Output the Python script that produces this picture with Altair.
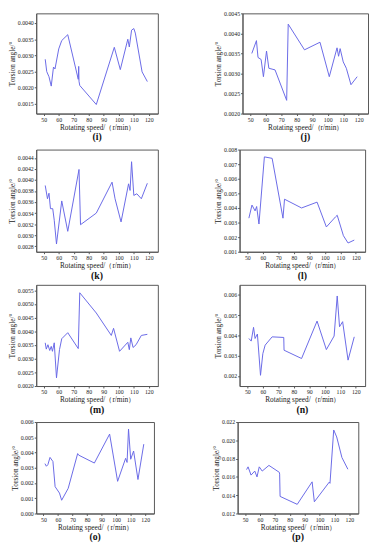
import altair as alt
import pandas as pd

X_TICKS = [50, 60, 70, 80, 90, 100, 110, 120]
X_TITLE = "Rotating speed/（r/min）"
Y_TITLE = "Torsion angle/°"

# (i)
x_i = [51, 52, 53.5, 55, 56.5, 57.5, 60, 62, 66, 73, 73.3, 73.5, 74, 85, 97, 101, 106, 107, 108.5, 110, 111, 115.5, 119]
y_i = [0.00288, 0.00250, 0.00234, 0.00205, 0.00264, 0.00258, 0.00320, 0.00346, 0.00364, 0.00226, 0.00266, 0.00220, 0.00207, 0.00148, 0.00325, 0.00256, 0.00350, 0.00326, 0.00378, 0.00383, 0.00369, 0.00249, 0.00219]
# (j)
x_j = [51, 54, 55, 57, 58.5, 60.5, 62, 66, 73.5, 74.5, 85, 95, 101, 106, 107, 108, 110, 112, 115, 119]
y_j = [0.00350, 0.00382, 0.00340, 0.00335, 0.00292, 0.00356, 0.00313, 0.00309, 0.00233, 0.00423, 0.00359, 0.00378, 0.00292, 0.00364, 0.00343, 0.00362, 0.00329, 0.00313, 0.00272, 0.00292]
# (k)
x_k = [51, 52.5, 53.5, 54.5, 56, 57, 58.5, 62, 66, 73.5, 74.5, 85, 95.5, 97.5, 101.5, 106.5, 107.5, 108.5, 110, 112, 115, 119]
y_k = [0.00390, 0.00366, 0.00376, 0.00348, 0.00348, 0.00327, 0.00284, 0.00362, 0.00307, 0.00419, 0.00319, 0.00340, 0.00396, 0.00366, 0.00324, 0.00393, 0.00381, 0.00433, 0.00372, 0.00375, 0.00366, 0.00394]
# (l)
x_l = [51, 53, 55, 56, 57.5, 61, 66, 73, 74, 85, 95, 101, 107, 108, 112, 115, 119]
y_l = [0.0033, 0.0042, 0.0038, 0.0041, 0.0029, 0.0075, 0.0074, 0.0033, 0.0046, 0.0040, 0.0044, 0.0027, 0.0034, 0.0035, 0.0021, 0.0016, 0.0018]
# (m)
x_m = [51, 51.7, 52.8, 54, 55, 55.8, 57, 58.5, 60.5, 62, 66, 73, 74, 85, 95, 96.5, 100.5, 106, 107, 108, 109.5, 111.5, 115, 119]
y_m = [0.00358, 0.00335, 0.00351, 0.00330, 0.00345, 0.00327, 0.00358, 0.00230, 0.00333, 0.00373, 0.00395, 0.00337, 0.00541, 0.00467, 0.00385, 0.00411, 0.00327, 0.00360, 0.00333, 0.00376, 0.00341, 0.00351, 0.00385, 0.00389]
# (n)
x_n = [51, 52.5, 54, 55, 56.5, 58.5, 60, 61.5, 66, 73.5, 73.7, 85, 95, 101, 106, 108, 109.5, 111.5, 115, 119]
y_n = [0.00385, 0.00372, 0.00440, 0.00385, 0.00407, 0.00203, 0.00310, 0.00352, 0.00393, 0.00390, 0.00327, 0.00286, 0.00471, 0.00330, 0.00397, 0.00595, 0.00443, 0.00468, 0.00278, 0.00393]
# (o)
x_o = [51, 52, 53, 54.5, 56.5, 58, 61, 62.5, 67, 73.5, 74.2, 85, 95.5, 101, 106.5, 107.5, 108.5, 110, 112, 115, 119]
y_o = [0.00327, 0.00310, 0.00320, 0.00368, 0.00341, 0.00176, 0.00134, 0.00087, 0.00165, 0.00393, 0.00383, 0.00331, 0.00521, 0.00211, 0.00362, 0.00335, 0.00554, 0.00356, 0.00410, 0.00223, 0.00455]
# (p)
x_p = [51, 52, 54, 56.5, 58, 59.5, 61.5, 66, 73, 73.2, 73.5, 85, 95, 96.5, 106.5, 107, 109.5, 111.5, 115, 119]
y_p = [0.0168, 0.0171, 0.0162, 0.01664, 0.0160, 0.0171, 0.01664, 0.01726, 0.0165, 0.0163, 0.01387, 0.0130, 0.01546, 0.01328, 0.01543, 0.0153, 0.02113, 0.02037, 0.01812, 0.01684]

LINE = "#6868e6"
FONT = "Liberation Serif"


def panel(xs, ys, label, dom, ticks, fmt, w, h):
    df = pd.DataFrame({"speed": xs, "angle": ys, "idx": list(range(len(xs)))})
    return alt.Chart(df, title=alt.TitleParams(label, orient="bottom", font=FONT,
                                               fontWeight="bold", fontSize=10, offset=2)).mark_line(
        color=LINE, strokeWidth=1).encode(
        x=alt.X("speed:Q", scale=alt.Scale(domain=[45, 126], nice=False, zero=False),
                axis=alt.Axis(values=X_TICKS, title=X_TITLE)),
        y=alt.Y("angle:Q", scale=alt.Scale(domain=dom, nice=False, zero=False),
                axis=alt.Axis(values=ticks, format=fmt, title=Y_TITLE)),
        order=alt.Order("idx:Q"),
    ).properties(width=w, height=h)


SP = 57
r1 = alt.hconcat(
    panel(x_i, y_i, "(i)", [0.0012, 0.0043], [0.0015, 0.0020, 0.0025, 0.0030, 0.0035, 0.0040], ".4f", 125, 103),
    panel(x_j, y_j, "(j)", [0.0020, 0.0045], [0.0020, 0.0025, 0.0030, 0.0035, 0.0040, 0.0045], ".4f", 129, 103),
    spacing=SP)
r2 = alt.hconcat(
    panel(x_k, y_k, "(k)", [0.0027, 0.00455], [0.0028, 0.0030, 0.0032, 0.0034, 0.0036, 0.0038, 0.0040, 0.0042, 0.0044], ".4f", 125, 105),
    panel(x_l, y_l, "(l)", [0.001, 0.008], [0.001, 0.002, 0.003, 0.004, 0.005, 0.006, 0.007, 0.008], ".3f", 129, 105),
    spacing=SP)
r3 = alt.hconcat(
    panel(x_m, y_m, "(m)", [0.0020, 0.0057], [0.0020, 0.0025, 0.0030, 0.0035, 0.0040, 0.0045, 0.0050, 0.0055], ".4f", 125, 104),
    panel(x_n, y_n, "(n)", [0.0015, 0.0065], [0.002, 0.003, 0.004, 0.005, 0.006], ".3f", 129, 104),
    spacing=SP)
r4 = alt.hconcat(
    panel(x_o, y_o, "(o)", [0.0, 0.006], [0.000, 0.001, 0.002, 0.003, 0.004, 0.005, 0.006], ".3f", 121, 94),
    panel(x_p, y_p, "(p)", [0.012, 0.022], [0.012, 0.014, 0.016, 0.018, 0.020, 0.022], ".3f", 124, 94),
    spacing=SP + 2)

chart = alt.vconcat(r1, r2, r3, r4, spacing=3).configure(
    font=FONT,
    padding={"left": 0, "top": -6, "right": 0, "bottom": 0},
).configure_view(
    stroke="#555", strokeWidth=1,
).configure_axis(
    grid=False, labelFont=FONT, titleFont=FONT, labelFontSize=6, titleFontSize=7.5,
    titleFontWeight="normal", labelColor="#222", titleColor="#222", tickColor="#555",
    domainColor="#555", tickSize=2, labelPadding=1, titlePadding=1,
).configure_title(font=FONT, color="#111")

chart.save("out.html", embed_options={"renderer": "svg", "actions": False})
